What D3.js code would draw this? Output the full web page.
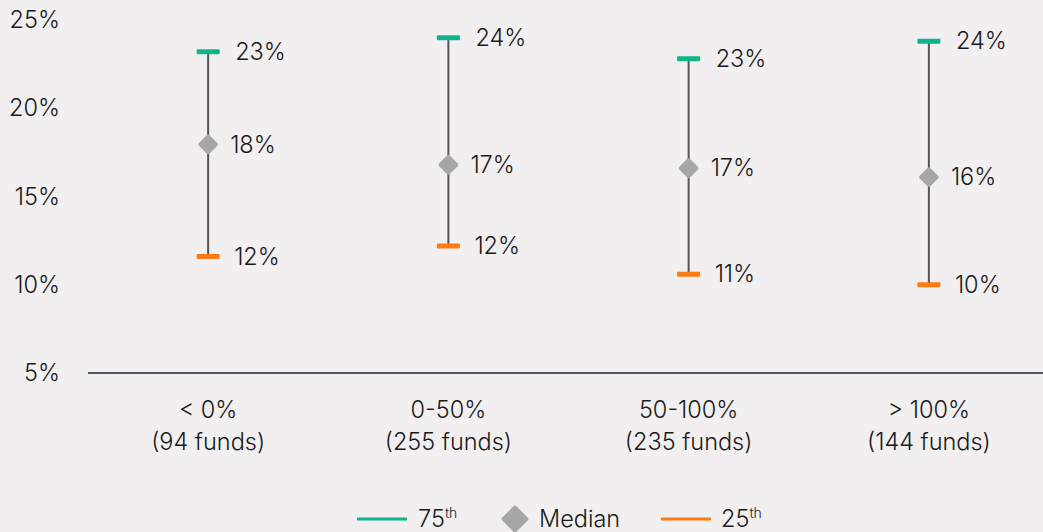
<!DOCTYPE html>
<html><head><meta charset="utf-8">
<script src="https://cdn.jsdelivr.net/npm/d3@7"></script>
<style>
html,body{margin:0;padding:0;background:#f1eff0;}
svg{display:block;}
text{font-family:Inter,"Noto Sans",sans-serif;fill:#1a1a1a;font-weight:300;}
</style></head>
<body>
<svg id="chart" width="1043" height="532"></svg>
<script>
const categories = ["< 0%|(94 funds)", "0-50%|(255 funds)", "50-100%|(235 funds)", "> 100%|(144 funds)"];
const p75 = [23.2, 24.0, 22.8, 23.8];
const median = [17.95, 16.8, 16.6, 16.1];
const p25 = [11.6, 12.2, 10.6, 10.0];
const yTicks = [5, 10, 15, 20, 25];

const W = 1043, H = 532;
const svg = d3.select("#chart");
svg.append("rect").attr("width", W).attr("height", H).attr("fill", "#f1eff0");

const x = d3.scaleBand().domain(categories).range([88, 1049]).padding(0);
const y = d3.scaleLinear().domain([5, 25]).range([373, 20]);

const green = "#0fb48a", orange = "#ff7a12", grey = "#a6a6a6";
const fs = 23.5;

// y axis labels
const yAxis = d3.axisLeft(y).tickValues(yTicks).tickFormat(d => d + "%").tickSize(0).tickPadding(0);
const ya = svg.append("g").attr("transform", "translate(60,0)").call(yAxis);
ya.select(".domain").remove();
ya.selectAll("text").attr("font-size", fs).attr("font-family", "Inter").attr("fill", "#1a1a1a");

// x axis
const xAxis = d3.axisBottom(x).tickSize(0).tickFormat("");
const xa = svg.append("g").attr("transform", "translate(0,373)").call(xAxis);
xa.select(".domain").attr("stroke", "#4a5561").attr("stroke-width", 2).attr("d", "M88,0H1043");

const cx = d => x(d) + x.bandwidth() / 2;
categories.forEach((c, i) => {
  const parts = c.split("|");
  const t = svg.append("text").attr("x", cx(c)).attr("text-anchor", "middle").attr("font-size", fs);
  t.append("tspan").attr("x", cx(c)).attr("y", 418).text(parts[0]);
  t.append("tspan").attr("x", cx(c)).attr("y", 450).text(parts[1]);
});

const data = categories.map((c, i) => ({c, hi: p75[i], med: median[i], lo: p25[i]}));
const g = svg.append("g");
// whiskers
g.selectAll("line.w").data(data).join("line")
  .attr("x1", d => cx(d.c)).attr("x2", d => cx(d.c))
  .attr("y1", d => y(d.hi)).attr("y2", d => y(d.lo))
  .attr("stroke", "#555555").attr("stroke-width", 2);
// caps
g.selectAll("rect.hi").data(data).join("rect").attr("class", "hi")
  .attr("x", d => cx(d.c) - 11.5).attr("y", d => y(d.hi) - 2.5).attr("width", 23).attr("height", 5)
  .attr("rx", 1).attr("fill", green);
g.selectAll("rect.lo").data(data).join("rect").attr("class", "lo")
  .attr("x", d => cx(d.c) - 11.5).attr("y", d => y(d.lo) - 2.5).attr("width", 23).attr("height", 5)
  .attr("rx", 1).attr("fill", orange);
// diamonds
g.selectAll("rect.med").data(data).join("rect").attr("class", "med")
  .attr("x", -7.5).attr("y", -7.5).attr("width", 15).attr("height", 15).attr("rx", 2)
  .attr("fill", grey)
  .attr("transform", d => `translate(${cx(d.c)},${y(d.med)}) rotate(45)`);
// labels
const lab = (sel, key, dx) => sel.selectAll("text." + key).data(data).join("text")
  .attr("x", d => cx(d.c) + dx).attr("y", d => y(d[key])).attr("dy", "0.35em")
  .attr("font-size", fs).text(d => Math.round(d[key]) + "%");
lab(g, "hi", 27); lab(g, "med", 22); lab(g, "lo", 26);

// legend
const leg = svg.append("g");
leg.append("line").attr("x1", 357).attr("x2", 407).attr("y1", 519).attr("y2", 519).attr("stroke", green).attr("stroke-width", 3);
const t1 = leg.append("text").attr("x", 418).attr("y", 527).attr("font-size", fs);
t1.append("tspan").text("75");
t1.append("tspan").attr("font-size", 14).attr("dy", -9).text("th");
leg.append("rect").attr("x", -10).attr("y", -10).attr("width", 20).attr("height", 20).attr("rx", 2).attr("fill", grey)
  .attr("transform", "translate(515,519) rotate(45)");
leg.append("text").attr("x", 539).attr("y", 527).attr("font-size", fs).text("Median");
leg.append("line").attr("x1", 661).attr("x2", 711).attr("y1", 519).attr("y2", 519).attr("stroke", orange).attr("stroke-width", 3);
const t2 = leg.append("text").attr("x", 721).attr("y", 527).attr("font-size", fs);
t2.append("tspan").text("25");
t2.append("tspan").attr("font-size", 14).attr("dy", -9).text("th");
</script>
</body></html>
